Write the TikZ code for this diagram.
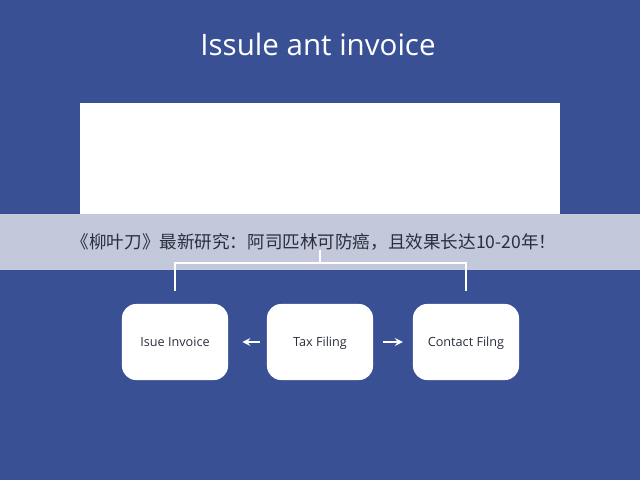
\documentclass[tikz,border=0pt]{standalone}
\usepackage{fontspec}
\setmainfont{Open Sans}
\newfontfamily\cjk{Noto Sans CJK SC}
\usetikzlibrary{positioning}
\definecolor{bgblue}{HTML}{3A5095}
\definecolor{bandgrey}{HTML}{C3C9DA}
\definecolor{boxtext}{HTML}{2A2F3E}
\begin{document}
\begin{tikzpicture}[x=0.025cm,y=-0.025cm,
  stage/.style={draw=none,fill=white,rounded corners=10pt,minimum width=2.65cm,minimum height=1.9cm,
    font=\fontsize{9}{10}\selectfont,text=boxtext,text height=1.6ex,text depth=0.4ex},
  link/.style={white,line width=1.2pt}]
  \fill[bgblue] (0,0) rectangle (640,480);
  \useasboundingbox (0,0) rectangle (640,480);
  \node[white,font=\fontsize{21}{24}\selectfont] (title) at (318,44) {Issule ant invoice};
  \fill[white] (80,103) rectangle (560,215);
  \fill[bandgrey] (0,214) rectangle (640,270);
  \node[text=boxtext,font=\cjk\fontsize{12.5}{14}\selectfont] (band) at (314,242) {《柳叶刀》最新研究：阿司匹林可防癌，且效果长达10-20年！};
  \node[stage] (issue) at (175,342) {Isue Invoice};
  \node[stage] (tax) at (320,342) {Tax Filing};
  \node[stage] (contact) at (466,342) {Contact Filng};
  \coordinate (stem) at (320,250);
  \coordinate (hub) at (320,263);
  \coordinate (leftend) at (175,291);
  \coordinate (rightend) at (466,291);
  \draw[link] (stem) -- (hub);
  \draw[link] (leftend) |- (hub) -| (rightend);
  \draw[->,>=stealth,white,line width=1.5pt] ([xshift=-5pt]tax.west) -- ([xshift=10pt]issue.east);
  \draw[->,>=stealth,white,line width=1.5pt] ([xshift=7pt]tax.east) -- ([xshift=-7pt]contact.west);
\end{tikzpicture}
\end{document}
